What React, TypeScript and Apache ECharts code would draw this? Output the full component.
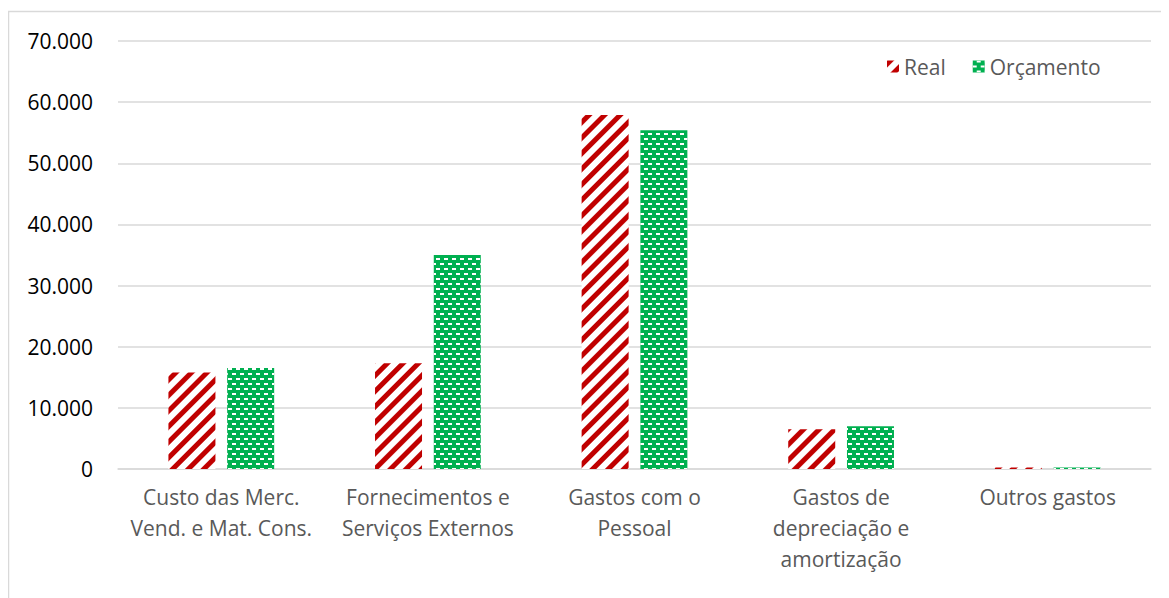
import React, { useEffect, useRef } from "react";
import * as echarts from "echarts";

const categories = [
  "Custo das Merc.\nVend. e Mat. Cons.",
  "Fornecimentos e\nServiços Externos",
  "Gastos com o\nPessoal",
  "Gastos de\ndepreciação e\namortização",
  "Outros gastos",
];
const realValues = [15800, 17300, 57900, 6500, 250];
const orcamentoValues = [16500, 35000, 55400, 7000, 250];
const yTicks = { min: 0, max: 70000, interval: 10000 };

const FONT = "'Open Sans', sans-serif";

function fmt(v: number): string {
  return String(Math.round(v)).replace(/\B(?=(\d{3})+(?!\d))/g, ".");
}

export default function App() {
  const ref = useRef<HTMLDivElement>(null);
  useEffect(() => {
    if (!ref.current) return;
    const chart = echarts.init(ref.current, null, { renderer: "svg" });
    chart.setOption({
      animation: false,
      backgroundColor: "#ffffff",
      textStyle: { fontFamily: FONT },
      graphic: [
        {
          type: "rect",
          shape: { x: 0.5, y: 3.5, width: 1200, height: 700 },
          style: { fill: "none", stroke: "#d9d9d9", lineWidth: 1.5 },
          silent: true,
          z: -10,
        },
      ],
      grid: { left: 110, right: 18, top: 33, bottom: 129, containLabel: false },
      legend: {
        left: 874,
        top: 43,
        itemWidth: 12,
        itemHeight: 12,
        itemGap: 27,
        icon: "rect",
        textStyle: { fontFamily: FONT, fontSize: 21, color: "#595959" },
        data: ["Real", "Orçamento"],
      },
      xAxis: {
        type: "category",
        data: categories,
        axisLine: { show: true, lineStyle: { color: "#d9d9d9", width: 1.5 } },
        axisTick: { show: false },
        axisLabel: {
          interval: 0,
          margin: 12,
          fontFamily: FONT,
          fontSize: 21,
          lineHeight: 31,
          color: "#595959",
        },
      },
      yAxis: {
        type: "value",
        min: yTicks.min,
        max: yTicks.max,
        interval: yTicks.interval,
        axisLine: { show: false },
        axisTick: { show: false },
        splitLine: { lineStyle: { color: "#d9d9d9", width: 1.5 } },
        axisLabel: {
          margin: 25,
          fontFamily: FONT,
          fontSize: 21,
          color: "#000000",
          formatter: (v: number) => fmt(v),
        },
      },
      series: [
        {
          name: "Real",
          type: "bar",
          data: realValues,
          barWidth: 47,
          barGap: "25%",
          itemStyle: {
            color: "#ffffff",
            decal: {
              symbol: "rect",
              symbolSize: 1,
              color: "#C00000",
              dashArrayX: [1, 0],
              dashArrayY: [4.5, 6],
              rotation: -Math.PI / 4,
            },
          },
        },
        {
          name: "Orçamento",
          type: "bar",
          data: orcamentoValues,
          barWidth: 47,
          itemStyle: {
            color: "#00B050",
            decal: {
              symbol: "rect",
              symbolSize: 1,
              color: "#ffffff",
              dashArrayX: [
                [4, 4],
                [0, 4, 4, 0],
              ],
              dashArrayY: [1.5, 2.6],
              rotation: 0,
            },
          },
        },
      ],
    });
    return () => chart.dispose();
  }, []);
  return <div ref={ref} style={{ width: 1161, height: 590 }} />;
}
